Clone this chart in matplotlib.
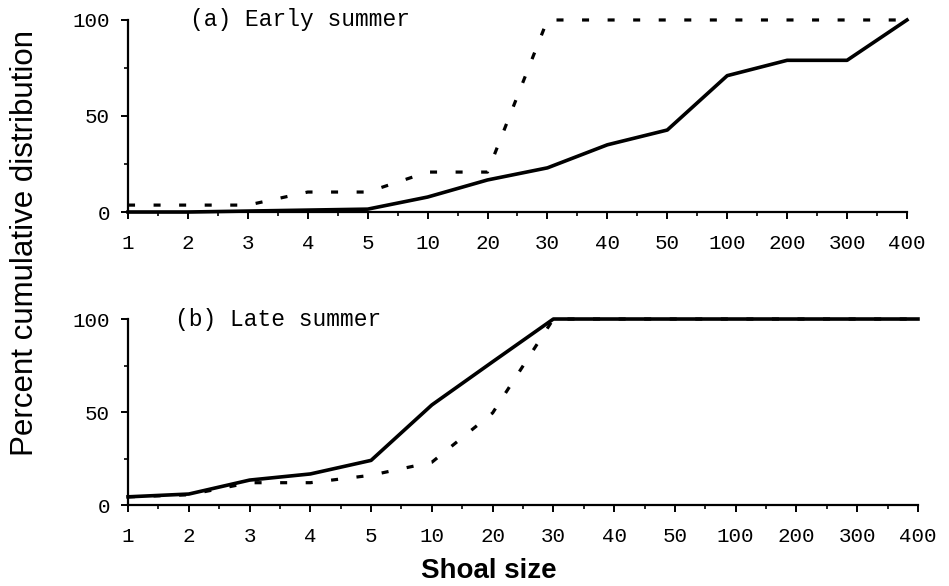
import matplotlib
matplotlib.use("Agg")
import matplotlib.pyplot as plt
from matplotlib.ticker import FixedLocator, MultipleLocator

categories = ["1", "2", "3", "4", "5", "10", "20", "30", "40", "50", "100", "200", "300", "400"]

early_solid = [0, 0, 0.5, 1, 1.5, 7.8, 16.7, 23, 35, 42.7, 71, 79, 79, 100]
early_dashed = [3.6, 3.6, 3.6, 10.4, 10.4, 20.8, 20.8, 100, 100, 100, 100, 100, 100, 100]
late_solid = [4.4, 5.9, 13.4, 16.7, 24, 53.8, 77, 100, 100, 100, 100, 100, 100, 100]
late_dashed = [4.4, 5.5, 12, 12, 16, 23, 49.5, 100, 100, 100, 100, 100, 100, 100]

titles = ["(a) Early summer", "(b) Late summer"]
yticks = [0, 50, 100]

mono = "Liberation Mono"
sans = "Liberation Sans"

fig = plt.figure(figsize=(9.49, 5.86), dpi=100)
ax1 = fig.add_axes([0.1349, 0.6382, 0.8208, 0.3277])
ax2 = fig.add_axes([0.1349, 0.1382, 0.8324, 0.3174])

x = list(range(len(categories)))

for ax, solid, dashed, title, tx in [(ax1, early_solid, early_dashed, titles[0], 0.08),
                                     (ax2, late_solid, late_dashed, titles[1], 0.06)]:
    ax.plot(x, dashed, color="black", lw=2.3, linestyle=(0, (2.2, 5.8)), clip_on=False,
            dash_capstyle="butt")
    ax.plot(x, solid, color="black", lw=2.6, clip_on=False)
    ax.set_xlim(0, len(categories) - 1)
    ax.set_ylim(0, 100)
    for s in ["top", "right"]:
        ax.spines[s].set_visible(False)
    for s in ["left", "bottom"]:
        ax.spines[s].set_linewidth(1.6)
    ax.set_xticks(x)
    ax.set_xticklabels(categories, fontfamily=mono, fontsize=15)
    ax.xaxis.set_minor_locator(FixedLocator([i + 0.5 for i in x[:-1]]))
    ax.set_yticks(yticks)
    ax.set_yticklabels([str(v) for v in yticks], fontfamily=mono, fontsize=15)
    ax.yaxis.set_minor_locator(MultipleLocator(25))
    ax.tick_params(axis="x", which="major", direction="out", length=5, width=1.4, pad=11)
    ax.tick_params(axis="y", which="major", direction="out", length=5, width=1.4, pad=8)
    ax.tick_params(axis="both", which="minor", direction="out", length=3, width=1.2)
    ax.text(tx, 1.0, title, transform=ax.transAxes, fontfamily=mono, fontsize=16.5,
            ha="left", va="center")

fig.text(0.026, 0.585, "Percent cumulative distribution", rotation=90, fontfamily=sans,
         fontsize=22.5, ha="center", va="center")
fig.text(0.515, 0.025, "Shoal size", fontfamily=sans, fontsize=20, fontweight="bold",
         ha="center", va="center")

fig.savefig("out.png", dpi=100)
